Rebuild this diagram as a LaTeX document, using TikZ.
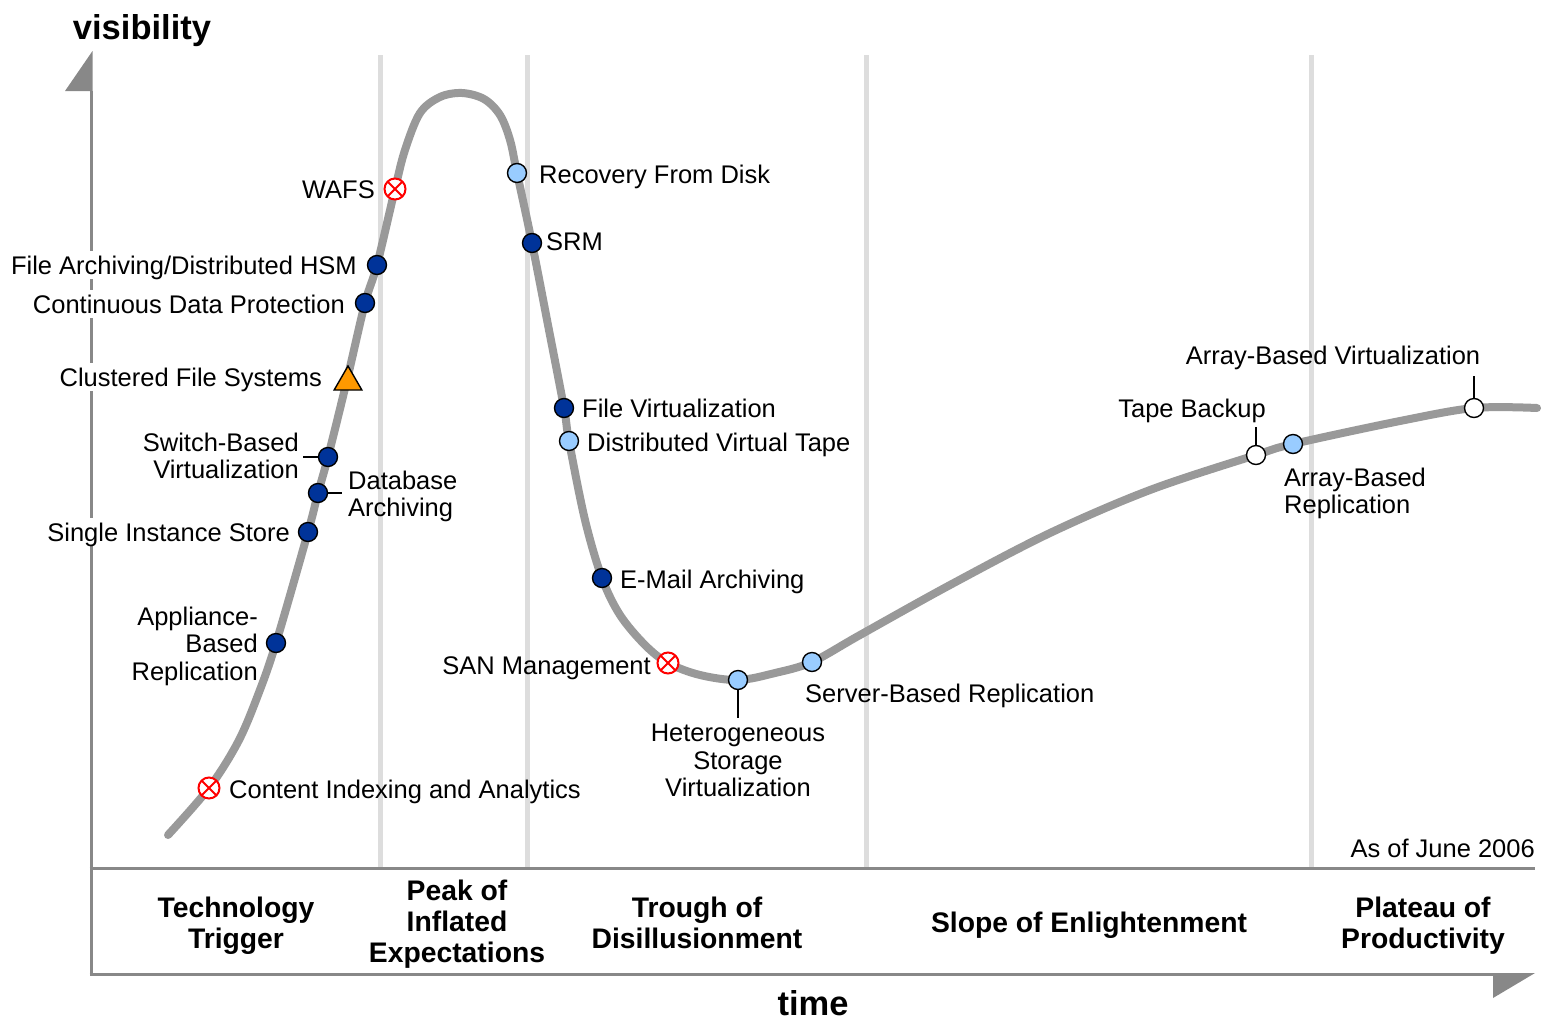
\documentclass[tikz,border=0pt]{standalone}
\usepackage{fontspec}
\setmainfont{Liberation Sans}
\usetikzlibrary{shapes.geometric}
\definecolor{curvegray}{HTML}{999999}
\definecolor{phasegray}{HTML}{DDDDDD}
\definecolor{axisgray}{HTML}{888888}
\definecolor{darkblue}{HTML}{003399}
\definecolor{lightblue}{HTML}{99CCFF}
\definecolor{orangefill}{HTML}{FF9900}
\begin{document}
\begin{tikzpicture}[x=1pt,y=-1pt,
  phase/.style={draw=phasegray, line width=5pt},
  axis/.style={draw=axisgray, line width=3pt},
  hype/.style={draw=curvegray, line width=8pt, line cap=round, line join=round},
  tick/.style={draw=black, line width=1.5pt},
  dot/.style={circle, draw=black, line width=1.4pt, minimum size=19pt, inner sep=0pt},
  darkdot/.style={dot, fill=darkblue},
  lightdot/.style={dot, fill=lightblue},
  opendot/.style={dot, fill=white},
  obsolete/.style={circle, draw=red, fill=white, line width=2pt, minimum size=21pt, inner sep=0pt,
    path picture={\draw[red, line width=2pt]
      (path picture bounding box.north west) -- (path picture bounding box.south east)
      (path picture bounding box.north east) -- (path picture bounding box.south west);}},
  rising/.style={regular polygon, regular polygon sides=3, draw=black, fill=orangefill,
    line width=1.4pt, minimum size=32pt, inner sep=0pt},
  lbl/.style={font=\fontsize{25.5}{27.3}\selectfont, inner sep=0pt},
  one/.style={lbl, text height=18.3pt, text depth=0pt},
  masked/.style={one, fill=white, inner xsep=3pt, inner ysep=5pt},
  stage/.style={font=\fontsize{28.3}{31}\selectfont\bfseries, inner sep=0pt, align=center},
  axislabel/.style={font=\fontsize{34.5}{36}\selectfont\bfseries, inner sep=0pt,
    text height=24.7pt, text depth=0pt}
]
\useasboundingbox (0,0) rectangle (1547,1020);

% phase separators
\foreach \px in {380,527,866,1311}
  \draw[phase] (\px,55) -- (\px,868);

% axes
\draw[axis] (91,91) -- (91,975);
\fill[axisgray] (92.5,51) -- (65,91) -- (92.5,91) -- cycle;
\draw[axis] (89.5,868) -- (1535,868);
\draw[axis] (89.5,974.5) -- (1495,974.5);
\fill[axisgray] (1493,973) -- (1535,973) -- (1493,998) -- cycle;

% hype curve
\draw[hype] plot[smooth, tension=0.55] coordinates {
  (168,835) (209,788) (238,742) (258,695) (276,643) (308,532)
  (318,493) (328,457) (347,380) (365,303) (377,265) (395,189) (405,150)
  (420,113) (440,97) (462,93) (484,99) (500,115) (510,140) (517,173)
  (532,243) (548,325) (564,408) (569,441) (585,520) (602,578) (620,615)
  (645,645) (668,663) (700,675) (738,680) (775,673) (812,662) (860,635)
  (950,585) (1050,533) (1150,490) (1256,455) (1293,444) (1400,421)
  (1474,408) (1537,408)};

% markers
\node[obsolete]  (cia)  at (209,788) {};
\node[darkdot]   (abr)  at (276,643) {};
\node[darkdot]   (sis)  at (308,532) {};
\node[darkdot]   (dba)  at (318,493) {};
\node[darkdot]   (sbv)  at (328,457) {};
\node[rising]    (cfs)  at (348,382) {};
\node[darkdot]   (cdp)  at (365,303) {};
\node[darkdot]   (hsm)  at (377,265) {};
\node[obsolete]  (wafs) at (395,189) {};
\node[lightdot]  (rfd)  at (517,173) {};
\node[darkdot]   (srm)  at (532,243) {};
\node[darkdot]   (fv)   at (564,408) {};
\node[lightdot]  (dvt)  at (569,441) {};
\node[darkdot]   (ema)  at (602,578) {};
\node[obsolete]  (san)  at (668,663) {};
\node[lightdot]  (hsv)  at (738,680) {};
\node[lightdot]  (sbr)  at (812,662) {};
\node[opendot]   (tb)   at (1256,455) {};
\node[lightdot]  (arep) at (1293,444) {};
\node[opendot]   (abv)  at (1474,408) {};

% leader lines
\coordinate (sbvend)  at (303,457);
\coordinate (dbaend)  at (342,493);
\coordinate (hsvend)  at (738,718);
\coordinate (tbend)   at (1256,427);
\coordinate (abvend)  at (1474,376);
\draw[tick] (sbv.west) -- (sbvend);
\draw[tick] (dba.east) -- (dbaend);
\draw[tick] (hsv.south) -- (hsvend);
\draw[tick] (tb.north) -- (tbend);
\draw[tick] (abv.north) -- (abvend);

% technology labels
\node[one, anchor=west]   (tcia)  at (229,789) {Content Indexing and Analytics};
\node[lbl, anchor=north east, align=right] (tabr) at (258,607) {Appliance-\\Based\\Replication};
\node[masked, anchor=east] (tsis) at (293,532) {Single Instance Store};
\node[lbl, anchor=north west, align=left] (tdba) at (348,471) {Database\\Archiving};
\node[lbl, anchor=north east, align=right] (tsbv) at (299,433) {Switch-Based\\Virtualization};
\node[masked, anchor=east] (tcfs) at (325,377) {Clustered File Systems};
\node[masked, anchor=east] (tcdp) at (348,304) {Continuous Data Protection};
\node[masked, anchor=east] (thsm) at (360,265) {File Archiving/Distributed HSM};
\node[one, anchor=east]   (twafs) at (375,189) {WAFS};
\node[one, anchor=west]   (trfd)  at (539,174) {Recovery From Disk};
\node[one, anchor=west]   (tsrm)  at (546,241) {SRM};
\node[one, anchor=west]   (tfv)   at (582,408) {File Virtualization};
\node[one, anchor=west]   (tdvt)  at (587,442) {Distributed Virtual Tape};
\node[one, anchor=west]   (tema)  at (620,579) {E-Mail Archiving};
\node[one, anchor=east]   (tsan)  at (651,665) {SAN Management};
\node[lbl, anchor=north, align=center] (thsv) at (738,724) {Heterogeneous\\Storage\\Virtualization};
\node[one, anchor=west]   (tsbr)  at (805,693) {Server-Based Replication};
\node[one]                (ttb)   at (1192,408) {Tape Backup};
\node[lbl, anchor=north west, align=left] (tarep) at (1284,468) {Array-Based\\Replication};
\node[one]                (tabv)  at (1333,355) {Array-Based Virtualization};
\node[one, anchor=east]   (date)  at (1535,848) {As of June 2006};

% axis titles
\node[axislabel] (yaxis) at (142,27) {visibility};
\node[axislabel] (xaxis) at (813,1003) {time};

% hype cycle stages
\node[stage, anchor=north] (s1) at (236,897) {Technology\\Trigger};
\node[stage, anchor=north] (s2) at (457,880) {Peak of\\Inflated\\Expectations};
\node[stage, anchor=north] (s3) at (697,897) {Trough of\\Disillusionment};
\node[stage, text height=20.3pt, text depth=0pt] (s4) at (1089,922) {Slope of Enlightenment};
\node[stage, anchor=north] (s5) at (1423,897) {Plateau of\\Productivity};
\end{tikzpicture}
\end{document}
